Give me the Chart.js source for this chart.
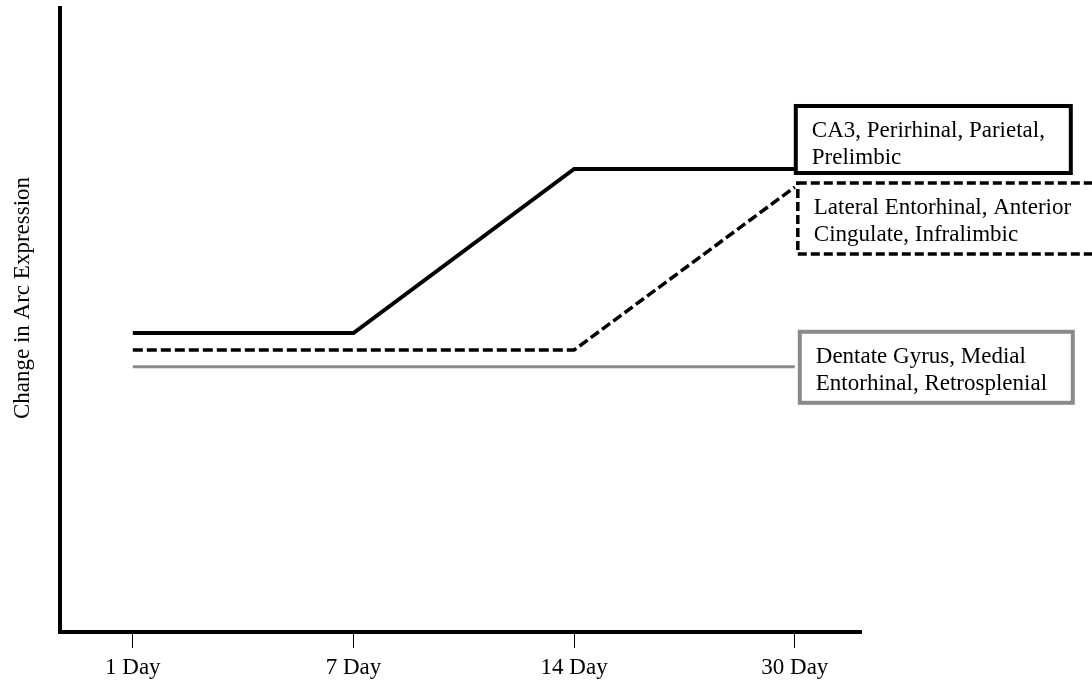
<!DOCTYPE html>
<html>
<head>
<meta charset="utf-8">
<script src="https://cdn.jsdelivr.net/npm/chart.js@4/dist/chart.umd.min.js"></script>
<style>
  html, body { margin: 0; padding: 0; background: #fff; }
  #wrap { width: 1092px; height: 684px; position: relative; }
</style>
</head>
<body>
<div id="wrap"><canvas id="arcChart"></canvas></div>
<script>
const dayLabels = ["1 Day", "7 Day", "14 Day", "30 Day"];
const dayIndex = [0, 1, 2, 3];

// relative Arc expression (no units on the axis)
const groupA = [47.9, 47.9, 74.2, 74.2];   // CA3, Perirhinal, Parietal, Prelimbic
const groupB = [45.2, 45.2, 45.2, 71.3];   // Lateral Entorhinal, Anterior Cingulate, Infralimbic
const groupC = [42.5, 42.5, 42.5, 42.5];   // Dentate Gyrus, Medial Entorhinal, Retrosplenial

const labelA = ["CA3, Perirhinal, Parietal,", "Prelimbic"];
const labelB = ["Lateral Entorhinal, Anterior", "Cingulate, Infralimbic"];
const labelC = ["Dentate Gyrus, Medial", "Entorhinal, Retrosplenial"];

const yTitle = "Change in Arc Expression";

const SERIF = '"Liberation Serif", "Times New Roman", serif';
const GREY = "#8a8a8a";

const toXY = vals => vals.map((v, i) => ({ x: dayIndex[i], y: v }));

// boxed labels sit at the 30 Day end of each line
const boxPlugin = {
  id: "boxLabels",
  afterDatasetsDraw(chart) {
    const { ctx, scales: { x, y } } = chart;
    const x30 = x.getPixelForValue(dayIndex[3]);
    const boxes = [
      { lines: labelA, left: x30 + 1, top: y.getPixelForValue(groupA[3]) - 63, w: 275, h: 67, color: "#000", lw: 4, dash: [] },
      { lines: labelB, left: x30 + 3, top: y.getPixelForValue(groupB[3]) - 4, w: 320, h: 71, color: "#000", lw: 3.5, dash: [9, 4] },
      { lines: labelC, left: x30 + 5, top: y.getPixelForValue(groupC[3]) - 35, w: 273, h: 71, color: GREY, lw: 4, dash: [] },
    ];
    ctx.save();
    boxes.forEach(b => {
      ctx.fillStyle = "#fff";
      ctx.fillRect(b.left, b.top, b.w, b.h);
      ctx.setLineDash(b.dash);
      ctx.lineWidth = b.lw;
      ctx.strokeStyle = b.color;
      ctx.strokeRect(b.left, b.top, b.w, b.h);
      ctx.setLineDash([]);
      ctx.fillStyle = "#000";
      ctx.font = "23px " + SERIF;
      ctx.textBaseline = "alphabetic";
      b.lines.forEach((t, i) => ctx.fillText(t, b.left + 16, b.top + 31 + i * 27));
    });

    // y axis caption
    ctx.translate(23, 298);
    ctx.rotate(-Math.PI / 2);
    ctx.textAlign = "center";
    ctx.textBaseline = "middle";
    ctx.font = "23px " + SERIF;
    ctx.fillText(yTitle, 0, 0);
    ctx.restore();
  }
};

new Chart(document.getElementById("arcChart"), {
  type: "line",
  data: {
    datasets: [
      { label: labelA.join(" "), data: toXY(groupA), borderColor: "#000", borderWidth: 4, pointRadius: 0, tension: 0 },
      { label: labelB.join(" "), data: toXY(groupB), borderColor: "#000", borderWidth: 3.5, borderDash: [10, 4], pointRadius: 0, tension: 0 },
      { label: labelC.join(" "), data: toXY(groupC), borderColor: GREY, borderWidth: 3, pointRadius: 0, tension: 0 },
    ]
  },
  options: {
    responsive: true,
    maintainAspectRatio: false,
    animation: false,
    layout: { padding: { left: 60, top: 8, right: 231, bottom: 0 } },
    plugins: { legend: { display: false }, tooltip: { enabled: false } },
    scales: {
      x: {
        type: "linear",
        min: -0.33,
        max: 3.3,
        afterBuildTicks: s => { s.ticks = dayIndex.map(v => ({ value: v })); },
        afterFit: s => { s.height = 52; },
        grid: { drawOnChartArea: false, drawTicks: true, tickLength: 16, color: "#000", lineWidth: 1 },
        border: { display: true, color: "#000", width: 4 },
        ticks: { color: "#000", padding: 6, font: { family: SERIF, size: 23 }, callback: v => dayLabels[v] }
      },
      y: {
        min: 0,
        max: 100,
        grid: { display: false, drawTicks: false },
        border: { display: true, color: "#000", width: 4 },
        ticks: { display: false }
      }
    }
  },
  plugins: [boxPlugin]
});
</script>
</body>
</html>
